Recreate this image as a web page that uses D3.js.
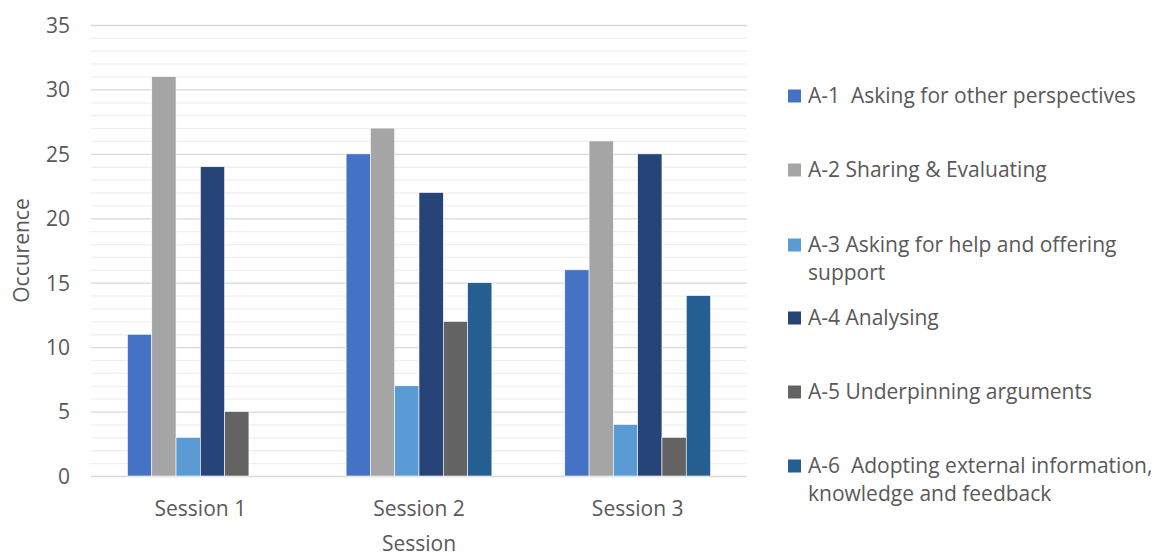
<!DOCTYPE html>
<html><head><meta charset="utf-8">
<script src="https://cdn.jsdelivr.net/npm/d3@7"></script>
<style>body{margin:0;background:#fff}svg{display:block}text{font-family:"Open Sans",sans-serif;fill:#595959}</style>
</head><body><svg id="c" width="1161" height="556"></svg>
<script>
const sessions = ["Session 1","Session 2","Session 3"];
const seriesNames = [
  ["A-1\u00a0 Asking for other perspectives"],
  ["A-2 Sharing & Evaluating"],
  ["A-3 Asking for help and offering","support"],
  ["A-4 Analysing"],
  ["A-5 Underpinning arguments"],
  ["A-6\u00a0 Adopting external information,","knowledge and feedback"]
];
const a1 = [11,25,16];
const a2 = [31,27,26];
const a3 = [3,7,4];
const a4 = [24,22,25];
const a5 = [5,12,3];
const a6 = [0,15,14];
const colors = ["#4472C4","#A5A5A5","#5B9BD5","#264478","#636363","#255E91"];
const yTicks = [0,5,10,15,20,25,30,35];

const series = [a1,a2,a3,a4,a5,a6];
const svg = d3.select("#c");
const L=91, R=747, T=25, B=476;
const FS = "21px";
const y = d3.scaleLinear().domain([0,35]).range([B,T]);
const x0 = d3.scaleBand().domain(sessions).range([L,R]).paddingInner(1/3).paddingOuter(1/6);
const x1 = d3.scaleBand().domain(d3.range(series.length)).range([0,x0.bandwidth()]);

// minor grid
svg.append("g").selectAll("line").data(d3.range(1,36).filter(v=>v%5!==0)).join("line")
  .attr("x1",L).attr("x2",R).attr("y1",d=>y(d)+0.5).attr("y2",d=>y(d)+0.5)
  .attr("stroke","#f0f0f0").attr("stroke-width",1.3);
// major grid
svg.append("g").selectAll("line").data(yTicks).join("line")
  .attr("x1",L).attr("x2",R).attr("y1",d=>y(d)+0.5).attr("y2",d=>y(d)+0.5)
  .attr("stroke","#d9d9d9").attr("stroke-width",1.3);

// bars
sessions.forEach((s,i)=>{
  series.forEach((arr,j)=>{
    if(arr[i]<=0) return;
    svg.append("rect").attr("x",x0(s)+x1(j)).attr("width",x1.bandwidth())
      .attr("y",y(arr[i])).attr("height",y(0)-y(arr[i]))
      .attr("fill",colors[j]).attr("stroke","#fff").attr("stroke-width",0.6);
  });
});

// y axis labels
const yAxis = d3.axisLeft(y).tickValues(yTicks).tickSize(0).tickPadding(0);
const gy = svg.append("g").attr("transform",`translate(70,0)`).call(yAxis);
gy.select(".domain").remove();
gy.selectAll("text").style("font-size",FS).attr("fill","#595959").attr("dy","0.35em")
  .style("font-family","'Open Sans',sans-serif");

// x axis labels
const xAxis = d3.axisBottom(x0).tickSize(0).tickPadding(0);
const gx = svg.append("g").attr("transform",`translate(0,${B})`).call(xAxis);
gx.select(".domain").remove();
gx.selectAll("text").style("font-size",FS).attr("fill","#595959").attr("y",40).attr("dy",0)
  .style("font-family","'Open Sans',sans-serif");

// titles
svg.append("text").attr("x",(L+R)/2).attr("y",551).attr("text-anchor","middle")
  .style("font-size",FS).text("Session");
svg.append("text").attr("transform",`translate(29,${(T+B)/2}) rotate(-90)`).attr("text-anchor","middle")
  .style("font-size",FS).text("Occurence");

// legend
const legY = [96,170,245,318,392,466];
seriesNames.forEach((lines,j)=>{
  const g = svg.append("g").attr("transform",`translate(788,${legY[j]})`);
  g.append("rect").attr("x",0).attr("y",-6.5).attr("width",13).attr("height",13).attr("fill",colors[j]);
  const t = g.append("text").attr("x",20).attr("y",7).style("font-size",FS);
  lines.forEach((ln,k)=>t.append("tspan").attr("x",20).attr("dy",k===0?0:28).text(ln));
});
</script></body></html>
